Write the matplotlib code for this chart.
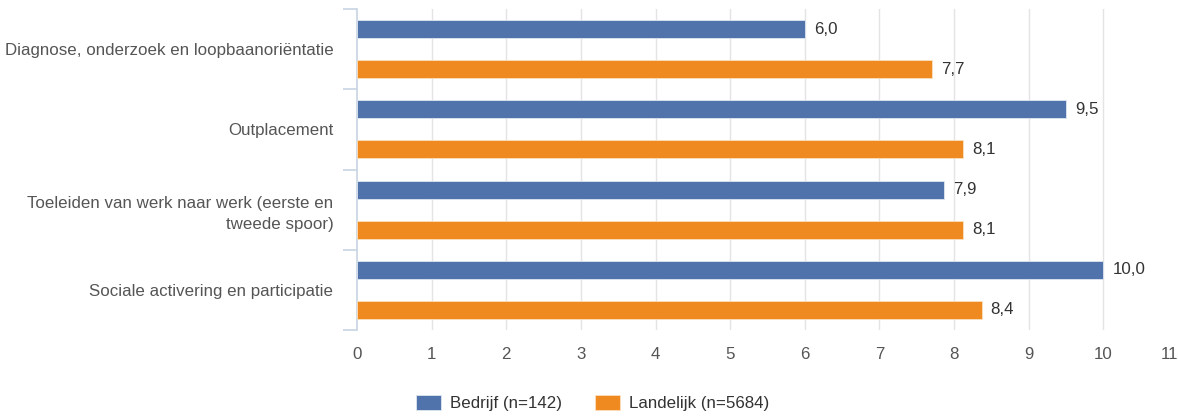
import numpy as np
import matplotlib
matplotlib.use("Agg")
import matplotlib.pyplot as plt

plt.rcParams['font.family'] = ['Liberation Sans', 'DejaVu Sans']

categorieen = [
    "Diagnose, onderzoek en loopbaanoriëntatie",
    "Outplacement",
    "Toeleiden van werk naar werk (eerste en\ntweede spoor)",
    "Sociale activering en participatie",
]
bedrijf = [6.0, 9.5, 7.86, 10.0]
landelijk = [7.7, 8.12, 8.12, 8.37]
reeksen = ["Bedrijf (n=142)", "Landelijk (n=5684)"]
x_ticks = list(range(0, 12))

blauw = "#5073AB"
oranje = "#EE8A1F"
as_kleur = "#C3D1E0"

fig = plt.figure(figsize=(11.78, 4.16), dpi=100)
ax = fig.add_axes([357 / 1178, 86 / 416, 821 / 1178, 321 / 416])

y = np.arange(len(categorieen))
b1 = ax.barh(y - 0.25, bedrijf, height=0.225, color=blauw, edgecolor="#dfe6f0",
             linewidth=0.6, label=reeksen[0], zorder=3)
b2 = ax.barh(y + 0.25, landelijk, height=0.225, color=oranje, edgecolor="#fbe0c0",
             linewidth=0.6, label=reeksen[1], zorder=3)

for bars, vals in [(b1, bedrijf), (b2, landelijk)]:
    ax.bar_label(bars, labels=[f"{v:.1f}".replace(".", ",") for v in vals],
                 padding=6.5, fontsize=12.2, color="#333333")

ax.set_xlim(0, 11)
ax.set_ylim(3.5, -0.5)

ax.set_xticks(x_ticks)
ax.set_xticklabels([str(t) for t in x_ticks])
ax.tick_params(axis="x", length=0, pad=12, labelsize=12.2, labelcolor="#555555")
ax.get_xticklabels()[-1].set_ha("right")

ax.set_yticks(y)
ax.set_yticklabels(categorieen, linespacing=1.45)
ax.tick_params(axis="y", which="major", length=0, pad=17, labelsize=12.2, labelcolor="#555555")
ax.set_yticks(np.arange(-0.5, len(categorieen), 1), minor=True)
ax.tick_params(axis="y", which="minor", length=10, width=1.1, color=as_kleur)

ax.xaxis.grid(True, color="#e4e4e4", linewidth=1.0, zorder=0)
ax.set_axisbelow(True)
gl = ax.xaxis.get_gridlines()
gl[0].set_visible(False)
gl[-1].set_visible(False)

for s in ["top", "right", "bottom"]:
    ax.spines[s].set_visible(False)
ax.spines["left"].set_color(as_kleur)
ax.spines["left"].set_linewidth(1.1)

fig.legend(handles=[b1, b2], labels=reeksen, loc="center", bbox_to_anchor=(0.503, 0.031),
           ncol=2, frameon=False, fontsize=12.2, handlelength=1.5, handleheight=1.0,
           handletextpad=0.55, columnspacing=1.9, labelcolor="#333333")

fig.savefig("out.png", dpi=100)
